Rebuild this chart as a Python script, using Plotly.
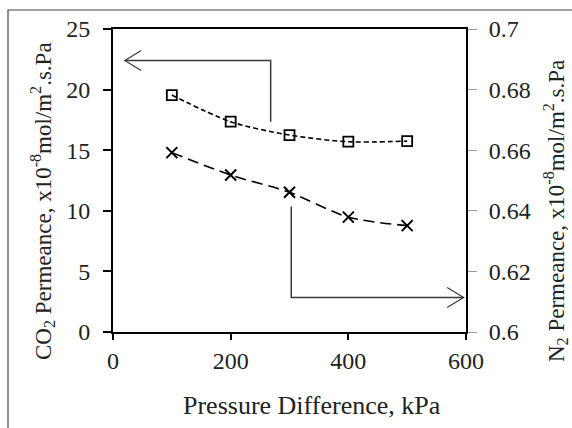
import plotly.graph_objects as go

# ---- data ----
pressure = [100, 200, 300, 400, 500]
co2_perm = [19.55, 17.35, 16.25, 15.7, 15.75]
n2_perm = [0.6592, 0.6518, 0.6461, 0.6379, 0.6351]

x_ticks = [0, 200, 400, 600]
y_ticks = [0, 5, 10, 15, 20, 25]
y2_ticks = [0.6, 0.62, 0.64, 0.66, 0.68, 0.7]
y2_text = ["0.6", "0.62", "0.64", "0.66", "0.68", "0.7"]

# arrow paths (x in kPa, y on left axis scale)
arrow1_x = [268, 20]
arrow1_y = [17.35, 22.4]
arrow2_x = [303, 596]
arrow2_y = [10.35, 2.85]

x_title = "Pressure Difference, kPa"
y_title = "CO<sub>2</sub> Permeance, x10<sup>-8</sup>mol/m<sup>2</sup>.s.Pa"
y2_title = "N<sub>2</sub> Permeance, x10<sup>-8</sup>mol/m<sup>2</sup>.s.Pa"

# ---- layout geometry ----
W, H = 572, 428
L, R, T, B = 113, 106, 29, 96
PW, PH = W - L - R, H - T - B
XR = [0, 600]
YR = [0, 25]
Y2R = [0.6, 0.7]

FONT = "Liberation Serif"
ARROW_COL = "#3a3a3a"
TXT = "#222"
TICK_SIZE = 24

def px_to_dx(p):
    return p * (XR[1] - XR[0]) / PW

def px_to_dy(p):
    return p * (YR[1] - YR[0]) / PH

fig = go.Figure()

fig.add_trace(go.Scatter(
    x=pressure, y=co2_perm, mode="lines+markers",
    line=dict(color="black", width=1.6, dash="5px,3px", shape="spline", smoothing=0.8),
    marker=dict(symbol="square-open", size=10, color="black", line=dict(width=1.8, color="black")),
    showlegend=False, cliponaxis=False))

fig.add_trace(go.Scatter(
    x=pressure, y=n2_perm, mode="lines+markers", yaxis="y2",
    line=dict(color="black", width=1.6, dash="11px,6px", shape="spline", smoothing=0.8),
    marker=dict(symbol="x-thin", size=11, color="black", line=dict(width=2, color="black")),
    showlegend=False, cliponaxis=False))

# arrow 1: from vertical stub, horizontal to the left axis
a1x = [arrow1_x[0], arrow1_x[0], arrow1_x[1]]
a1y = [arrow1_y[0], arrow1_y[1], arrow1_y[1]]
fig.add_trace(go.Scatter(x=a1x, y=a1y, mode="lines",
                         line=dict(color=ARROW_COL, width=1.5), showlegend=False, hoverinfo="skip"))
hx, hy = px_to_dx(16.5), px_to_dy(10)
fig.add_trace(go.Scatter(
    x=[arrow1_x[1] + hx, arrow1_x[1], arrow1_x[1] + hx],
    y=[arrow1_y[1] + hy, arrow1_y[1], arrow1_y[1] - hy],
    mode="lines", line=dict(color=ARROW_COL, width=1.2), showlegend=False, hoverinfo="skip"))

# arrow 2: down then right to the right axis
a2x = [arrow2_x[0], arrow2_x[0], arrow2_x[1]]
a2y = [arrow2_y[0], arrow2_y[1], arrow2_y[1]]
fig.add_trace(go.Scatter(x=a2x, y=a2y, mode="lines",
                         line=dict(color=ARROW_COL, width=1.5), showlegend=False, hoverinfo="skip",
                         cliponaxis=False))
fig.add_trace(go.Scatter(
    x=[arrow2_x[1] - hx, arrow2_x[1], arrow2_x[1] - hx],
    y=[arrow2_y[1] + hy, arrow2_y[1], arrow2_y[1] - hy],
    mode="lines", line=dict(color=ARROW_COL, width=1.2), showlegend=False, hoverinfo="skip",
    cliponaxis=False))

def px_x(p):
    return (p - L) / PW

def px_y(p):
    return (H - B - p) / PH

fig.update_layout(
    width=W, height=H,
    margin=dict(l=L, r=R, t=T, b=B, pad=0),
    paper_bgcolor="white", plot_bgcolor="white",
    font=dict(family=FONT, size=TICK_SIZE, color=TXT),
    xaxis=dict(range=XR, tickvals=x_ticks, showgrid=False, zeroline=False,
               showline=True, linecolor="black", linewidth=2, mirror=True,
               ticks="outside", ticklen=6, tickwidth=2, tickcolor="black",
               ticklabelstandoff=0, tickfont=dict(family=FONT, size=TICK_SIZE, color=TXT)),
    yaxis=dict(range=YR, tickvals=y_ticks, showgrid=False, zeroline=False,
               showline=True, linecolor="black", linewidth=2,
               ticks="outside", ticklen=8, tickwidth=1.5, tickcolor="black",
               ticklabelstandoff=8, tickfont=dict(family=FONT, size=TICK_SIZE, color=TXT)),
    yaxis2=dict(range=Y2R, tickvals=y2_ticks, ticktext=y2_text, overlaying="y", side="right",
                showgrid=False, zeroline=False,
                showline=True, linecolor="black", linewidth=2,
                ticks="outside", ticklen=9, tickwidth=1.2, tickcolor="#9a9a9a",
                ticklabelstandoff=7, tickfont=dict(family=FONT, size=TICK_SIZE, color=TXT)),
    shapes=[dict(type="rect", xref="paper", yref="paper",
                 x0=px_x(8), y0=px_y(470), x1=px_x(640), y1=px_y(10),
                 line=dict(color="#444", width=1.2), fillcolor="rgba(0,0,0,0)", layer="below")],
    annotations=[
        dict(text=x_title, xref="paper", yref="paper", x=px_x(312), y=px_y(405),
             showarrow=False, xanchor="center", yanchor="middle",
             font=dict(family=FONT, size=26, color=TXT)),
        dict(text=y_title, xref="paper", yref="paper", x=px_x(42), y=px_y(201),
             showarrow=False, textangle=-90, xanchor="center", yanchor="middle",
             font=dict(family=FONT, size=23, color=TXT)),
        dict(text=y2_title, xref="paper", yref="paper", x=px_x(556), y=px_y(211),
             showarrow=False, textangle=-90, xanchor="center", yanchor="middle",
             font=dict(family=FONT, size=23, color=TXT)),
    ],
)

fig.write_html("out.html", config={"displayModeBar": False},
               post_script="document.body.style.margin='0';document.body.style.overflow='hidden';")
